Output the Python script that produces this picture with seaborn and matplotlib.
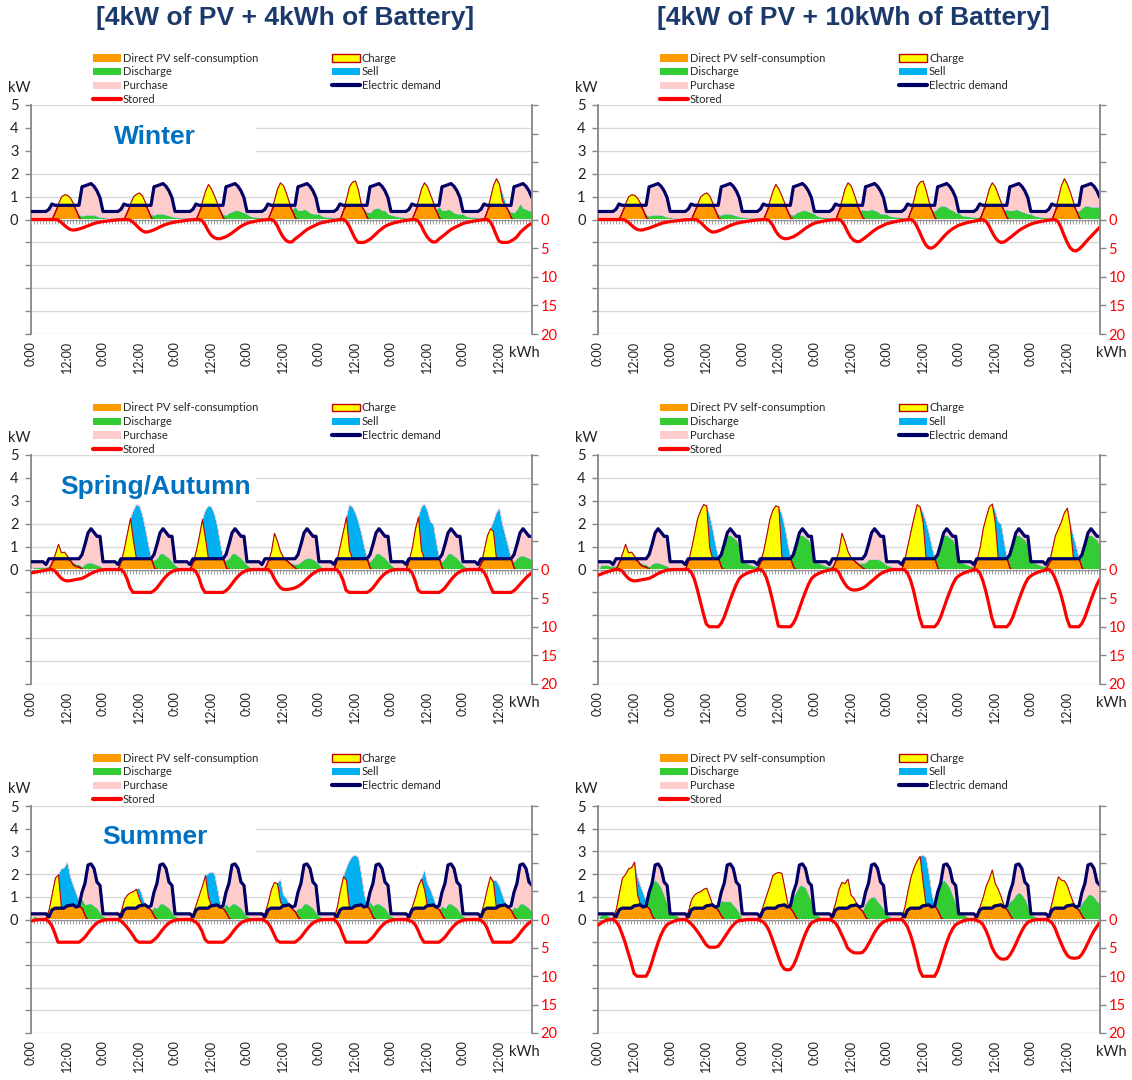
import numpy as np
import pandas as pd
import matplotlib
matplotlib.use("Agg")
import matplotlib.pyplot as plt
import seaborn as sns
from matplotlib.patches import Patch, Rectangle
from matplotlib.lines import Line2D

# ---------------------------------------------------------------- data
HOURS = np.arange(168)
TICK_POS = np.arange(0, 168, 12)
TICK_LABELS = ["0:00", "12:00"] * 7
COLUMN_TITLES = ["[4kW of PV + 4kWh of Battery]", "[4kW of PV + 10kWh of Battery]"]
CAPACITIES = [4, 10]
SEASONS = ["Winter", "Spring/Autumn", "Summer"]
KW_TICKS = list(range(-5, 6))
KWH_TICKS = list(range(-20, 21, 5))

# hourly electric demand profile (kW), repeated every day of the week
DEMAND_WINTER = [0.35, 0.35, 0.35, 0.35, 0.35, 0.35, 0.45, 0.68, 0.62, 0.62, 0.62, 0.62,
                 0.62, 0.62, 0.62, 0.62, 0.62, 1.43, 1.47, 1.52, 1.57, 1.45, 1.25, 0.95]
DEMAND_SPRING = [0.34, 0.34, 0.34, 0.34, 0.34, 0.22, 0.47, 0.47, 0.47, 0.47, 0.47, 0.47,
                 0.47, 0.47, 0.47, 0.47, 0.47, 0.65, 1.1, 1.6, 1.78, 1.62, 1.45, 1.45]
DEMAND_SUMMER = [0.25, 0.25, 0.25, 0.25, 0.25, 0.25, 0.12, 0.42, 0.5, 0.5, 0.5, 0.5,
                 0.6, 0.62, 0.65, 0.55, 0.6, 1.2, 1.6, 2.4, 2.45, 2.25, 1.65, 1.5]

# PV generation (kW), one 24-hour list per day
PV_WINTER = [
    [0, 0, 0, 0, 0, 0, 0, 0.05, 0.35, 0.7, 1.0, 1.1, 1.08, 0.95, 0.72, 0.4, 0.08, 0, 0, 0, 0, 0, 0, 0],
    [0, 0, 0, 0, 0, 0, 0, 0.05, 0.35, 0.7, 1.0, 1.12, 1.18, 1.05, 0.75, 0.4, 0.08, 0, 0, 0, 0, 0, 0, 0],
    [0, 0, 0, 0, 0, 0, 0, 0.05, 0.35, 0.8, 1.25, 1.55, 1.35, 1.05, 0.72, 0.38, 0.08, 0, 0, 0, 0, 0, 0, 0],
    [0, 0, 0, 0, 0, 0, 0, 0.05, 0.38, 0.85, 1.35, 1.62, 1.5, 1.15, 0.75, 0.38, 0.08, 0, 0, 0, 0, 0, 0, 0],
    [0, 0, 0, 0, 0, 0, 0, 0.05, 0.4, 0.9, 1.45, 1.65, 1.7, 1.3, 0.78, 0.4, 0.08, 0, 0, 0, 0, 0, 0, 0],
    [0, 0, 0, 0, 0, 0, 0, 0.05, 0.38, 0.85, 1.35, 1.62, 1.45, 1.1, 0.75, 0.38, 0.08, 0, 0, 0, 0, 0, 0, 0],
    [0, 0, 0, 0, 0, 0, 0, 0.05, 0.4, 0.95, 1.5, 1.8, 1.55, 1.2, 0.78, 0.4, 0.08, 0, 0, 0, 0, 0, 0, 0],
]
PV_SPRING = [
    [0, 0, 0, 0, 0, 0, 0.05, 0.35, 0.7, 1.12, 0.75, 0.78, 0.6, 0.4, 0.22, 0.15, 0.12, 0.03, 0, 0, 0, 0, 0, 0],
    [0, 0, 0, 0, 0, 0.05, 0.4, 0.95, 1.6, 2.25, 2.6, 2.85, 2.8, 2.4, 1.8, 1.1, 0.5, 0.1, 0, 0, 0, 0, 0, 0],
    [0, 0, 0, 0, 0, 0.05, 0.35, 0.85, 1.5, 2.2, 2.6, 2.8, 2.75, 2.45, 1.9, 1.15, 0.5, 0.1, 0, 0, 0, 0, 0, 0],
    [0, 0, 0, 0, 0, 0, 0.1, 0.4, 0.8, 1.6, 1.25, 0.8, 0.55, 0.42, 0.3, 0.18, 0.08, 0, 0, 0, 0, 0, 0, 0],
    [0, 0, 0, 0, 0, 0.05, 0.5, 1.1, 1.7, 2.3, 2.85, 2.75, 2.5, 2.1, 1.6, 1.0, 0.45, 0.05, 0, 0, 0, 0, 0, 0],
    [0, 0, 0, 0, 0, 0.05, 0.45, 1.0, 1.8, 2.3, 2.75, 2.88, 2.6, 2.1, 2.0, 1.2, 0.5, 0.05, 0, 0, 0, 0, 0, 0],
    [0, 0, 0, 0, 0, 0.05, 0.3, 0.9, 1.5, 1.8, 2.1, 2.5, 2.7, 2.0, 1.5, 1.0, 0.45, 0.05, 0, 0, 0, 0, 0, 0],
]
PV_SUMMER = [
    [0, 0, 0, 0, 0, 0.1, 0.5, 1.2, 1.85, 2.0, 2.25, 2.3, 2.55, 1.9, 1.5, 1.15, 0.8, 0.5, 0.15, 0, 0, 0, 0, 0],
    [0, 0, 0, 0, 0, 0.05, 0.4, 0.9, 1.1, 1.2, 1.25, 1.35, 1.4, 1.05, 0.65, 0.55, 0.4, 0.15, 0, 0, 0, 0, 0, 0],
    [0, 0, 0, 0, 0, 0.05, 0.3, 0.7, 1.1, 1.5, 1.95, 2.05, 2.1, 2.05, 1.4, 0.7, 0.5, 0.3, 0.05, 0, 0, 0, 0, 0],
    [0, 0, 0, 0, 0, 0.05, 0.35, 0.8, 1.35, 1.65, 1.6, 1.8, 1.1, 0.95, 0.7, 0.5, 0.35, 0.1, 0, 0, 0, 0, 0, 0],
    [0, 0, 0, 0, 0, 0.1, 0.6, 1.3, 1.9, 2.3, 2.6, 2.8, 2.85, 2.75, 2.0, 1.1, 0.6, 0.4, 0.1, 0, 0, 0, 0, 0],
    [0, 0, 0, 0, 0, 0.05, 0.3, 0.6, 1.0, 1.5, 1.8, 2.2, 1.6, 1.35, 1.0, 0.6, 0.45, 0.2, 0, 0, 0, 0, 0, 0],
    [0, 0, 0, 0, 0, 0.05, 0.3, 0.8, 1.4, 1.9, 1.75, 1.72, 1.5, 1.1, 0.75, 0.55, 0.4, 0.15, 0, 0, 0, 0, 0, 0],
]

# energy stored in the battery (kWh), one 24-hour list per day
STORED_WINTER_4 = [
    [0, 0, 0, 0, 0, 0, 0, 0, 0, 0.08, 0.46, 0.94, 1.4, 1.73, 1.85, 1.8, 1.65, 1.5, 1.3, 1.1, 0.9, 0.7, 0.55, 0.45],
    [0.35, 0.28, 0.22, 0.16, 0.1, 0.05, 0.02, 0, 0, 0.08, 0.46, 0.96, 1.5, 1.93, 2.2, 2.15, 2.0, 1.8, 1.55, 1.3, 1.05, 0.85, 0.68, 0.55],
    [0.45, 0.36, 0.28, 0.2, 0.13, 0.07, 0.03, 0, 0, 0.2, 0.9, 1.9, 2.7, 3.15, 3.35, 3.35, 3.2, 3.0, 2.7, 2.35, 1.95, 1.55, 1.2, 0.9],
    [0.65, 0.5, 0.38, 0.27, 0.18, 0.1, 0.05, 0.02, 0, 0.23, 1.0, 2.1, 3.05, 3.65, 3.95, 3.9, 3.4, 3.0, 2.6, 2.15, 1.75, 1.45, 1.2, 0.95],
    [0.7, 0.55, 0.43, 0.32, 0.23, 0.15, 0.08, 0.03, 0, 0.28, 1.1, 2.2, 3.3, 4.0, 4.0, 4.0, 3.75, 3.45, 3.0, 2.5, 2.0, 1.6, 1.2, 0.95],
    [0.75, 0.58, 0.45, 0.33, 0.23, 0.15, 0.08, 0.03, 0, 0.23, 1.0, 2.1, 3.0, 3.6, 3.95, 3.9, 3.4, 3.0, 2.6, 2.15, 1.75, 1.45, 1.2, 0.95],
    [0.7, 0.55, 0.43, 0.32, 0.23, 0.15, 0.08, 0.03, 0, 0.33, 1.3, 2.6, 3.8, 4.0, 4.0, 4.0, 3.75, 3.45, 3.0, 2.3, 1.8, 1.35, 0.95, 0.65],
]
STORED_WINTER_10 = [
    [0, 0, 0, 0, 0, 0, 0, 0, 0, 0.08, 0.46, 0.94, 1.4, 1.73, 1.85, 1.8, 1.65, 1.5, 1.3, 1.1, 0.9, 0.7, 0.55, 0.45],
    [0.35, 0.28, 0.22, 0.16, 0.1, 0.05, 0.02, 0, 0, 0.08, 0.46, 0.96, 1.5, 1.93, 2.2, 2.15, 2.0, 1.8, 1.55, 1.3, 1.05, 0.85, 0.68, 0.55],
    [0.45, 0.36, 0.28, 0.2, 0.13, 0.07, 0.03, 0, 0, 0.2, 0.9, 1.9, 2.7, 3.15, 3.35, 3.35, 3.2, 3.0, 2.7, 2.35, 1.95, 1.55, 1.2, 0.9],
    [0.65, 0.5, 0.38, 0.27, 0.18, 0.1, 0.05, 0.02, 0, 0.23, 1.0, 2.1, 3.05, 3.6, 3.85, 3.85, 3.5, 3.1, 2.7, 2.25, 1.85, 1.5, 1.25, 1.0],
    [0.75, 0.6, 0.47, 0.35, 0.25, 0.16, 0.09, 0.04, 0, 0.28, 1.1, 2.2, 3.4, 4.4, 4.95, 5.0, 4.7, 4.2, 3.6, 3.0, 2.45, 2.0, 1.6, 1.3],
    [1.0, 0.82, 0.66, 0.52, 0.4, 0.3, 0.2, 0.12, 0.05, 0.3, 1.05, 2.1, 3.05, 3.7, 4.0, 3.95, 3.6, 3.2, 2.8, 2.35, 1.95, 1.6, 1.3, 1.05],
    [0.8, 0.63, 0.49, 0.37, 0.27, 0.18, 0.1, 0.05, 0, 0.35, 1.35, 2.7, 3.9, 4.9, 5.4, 5.5, 5.2, 4.7, 4.1, 3.5, 2.95, 2.4, 1.85, 1.3],
]
STORED_SPRING_4 = [
    [0.6, 0.5, 0.4, 0.3, 0.2, 0.1, 0, 0, 0.25, 0.9, 1.5, 1.85, 2.0, 1.95, 1.85, 1.75, 1.65, 1.55, 1.3, 1.0, 0.7, 0.45, 0.25, 0.1],
    [0.05, 0, 0, 0, 0, 0, 0, 0.48, 1.6, 3.2, 4.0, 4.0, 4.0, 4.0, 4.0, 4.0, 4.0, 3.7, 3.2, 2.5, 1.8, 1.2, 0.7, 0.35],
    [0.15, 0.05, 0, 0, 0, 0, 0, 0.4, 1.45, 3.1, 4.0, 4.0, 4.0, 4.0, 4.0, 4.0, 4.0, 3.7, 3.2, 2.5, 1.8, 1.2, 0.7, 0.35],
    [0.15, 0.05, 0, 0, 0, 0, 0, 0, 0.4, 1.5, 2.4, 3.1, 3.45, 3.5, 3.45, 3.35, 3.2, 2.95, 2.6, 2.15, 1.65, 1.15, 0.7, 0.35],
    [0.12, 0.04, 0, 0, 0, 0, 0.05, 0.65, 1.85, 3.6, 4.0, 4.0, 4.0, 4.0, 4.0, 4.0, 4.0, 3.7, 3.2, 2.5, 1.8, 1.2, 0.7, 0.35],
    [0.15, 0.05, 0, 0, 0, 0, 0.05, 0.55, 1.85, 3.6, 4.0, 4.0, 4.0, 4.0, 4.0, 4.0, 4.0, 3.7, 3.2, 2.5, 1.8, 1.2, 0.7, 0.35],
    [0.15, 0.05, 0, 0, 0, 0, 0, 0.45, 1.45, 2.8, 4.0, 4.0, 4.0, 4.0, 4.0, 4.0, 4.0, 3.7, 3.2, 2.6, 2.0, 1.45, 0.95, 0.55],
]
STORED_SPRING_10 = [
    [1.0, 0.8, 0.6, 0.4, 0.25, 0.1, 0, 0, 0.25, 0.9, 1.5, 1.85, 2.0, 1.95, 1.85, 1.75, 1.65, 1.55, 1.3, 1.0, 0.7, 0.45, 0.25, 0.1],
    [0.05, 0, 0, 0, 0, 0, 0, 0.48, 1.6, 3.4, 5.5, 7.6, 9.5, 10, 10, 10, 10, 9.4, 8.3, 6.8, 5.3, 3.9, 2.6, 1.6],
    [1.1, 0.8, 0.55, 0.35, 0.2, 0.08, 0, 0.38, 1.41, 3.14, 5.27, 7.6, 9.88, 10, 10, 10, 10, 9.4, 8.3, 6.8, 5.3, 3.9, 2.6, 1.6],
    [1.1, 0.8, 0.55, 0.35, 0.2, 0.08, 0, 0, 0.4, 1.5, 2.4, 3.1, 3.45, 3.6, 3.55, 3.45, 3.25, 2.95, 2.5, 2.05, 1.6, 1.15, 0.75, 0.45],
    [0.25, 0.1, 0, 0, 0, 0, 0.05, 0.65, 1.9, 3.75, 6.1, 8.4, 10, 10, 10, 10, 10, 9.4, 8.3, 6.8, 5.3, 3.9, 2.6, 1.6],
    [1.1, 0.8, 0.55, 0.35, 0.2, 0.08, 0.05, 0.55, 1.9, 3.75, 6.0, 8.4, 10, 10, 10, 10, 10, 9.4, 8.3, 6.8, 5.3, 3.9, 2.6, 1.6],
    [1.1, 0.8, 0.55, 0.35, 0.2, 0.08, 0, 0.43, 1.46, 2.8, 4.4, 6.4, 8.6, 10, 10, 10, 10, 9.4, 8.3, 6.8, 5.3, 3.9, 2.6, 1.6],
]
STORED_SUMMER_4 = [
    [0.3, 0.15, 0.05, 0, 0, 0, 0.38, 1.16, 2.51, 4.0, 4.0, 4.0, 4.0, 4.0, 4.0, 4.0, 4.0, 3.6, 3.1, 2.4, 1.7, 1.1, 0.6, 0.3],
    [0.15, 0.05, 0, 0, 0, 0, 0.28, 0.76, 1.36, 2.06, 2.81, 3.66, 4.0, 4.0, 4.0, 4.0, 4.0, 3.6, 3.1, 2.4, 1.7, 1.1, 0.6, 0.3],
    [0.15, 0.05, 0, 0, 0, 0, 0.18, 0.46, 1.06, 2.06, 3.51, 4.0, 4.0, 4.0, 4.0, 4.0, 4.0, 3.6, 3.1, 2.4, 1.7, 1.1, 0.6, 0.3],
    [0.15, 0.05, 0, 0, 0, 0, 0.23, 0.61, 1.46, 2.61, 3.71, 4.0, 4.0, 4.0, 4.0, 4.0, 4.0, 3.6, 3.1, 2.4, 1.7, 1.1, 0.6, 0.3],
    [0.15, 0.05, 0, 0, 0, 0, 0.48, 1.36, 2.76, 4.0, 4.0, 4.0, 4.0, 4.0, 4.0, 4.0, 4.0, 3.6, 3.1, 2.4, 1.7, 1.1, 0.6, 0.3],
    [0.15, 0.05, 0, 0, 0, 0, 0.18, 0.36, 0.86, 1.86, 3.16, 4.0, 4.0, 4.0, 4.0, 4.0, 4.0, 3.6, 3.1, 2.4, 1.7, 1.1, 0.6, 0.3],
    [0.15, 0.05, 0, 0, 0, 0, 0.18, 0.56, 1.46, 2.86, 4.0, 4.0, 4.0, 4.0, 4.0, 4.0, 4.0, 3.6, 3.1, 2.4, 1.7, 1.1, 0.6, 0.3],
]
STORED_SUMMER_10 = [
    [1.0, 0.6, 0.3, 0.1, 0, 0, 0.38, 1.16, 2.51, 4.01, 5.76, 7.56, 9.51, 10, 10, 10, 10, 9.0, 7.4, 5.65, 4.05, 2.65, 1.6, 0.9],
    [0.6, 0.35, 0.15, 0.05, 0, 0, 0.28, 0.76, 1.36, 2.06, 2.81, 3.66, 4.46, 4.89, 4.89, 4.89, 4.7, 4.0, 3.2, 2.4, 1.6, 0.95, 0.45, 0.15],
    [0.15, 0.05, 0, 0, 0, 0, 0.18, 0.46, 1.06, 2.06, 3.51, 5.06, 6.56, 7.99, 8.74, 8.89, 8.8, 8.1, 6.9, 5.4, 3.9, 2.5, 1.4, 0.6],
    [0.3, 0.1, 0, 0, 0, 0, 0.23, 0.61, 1.46, 2.61, 3.71, 5.01, 5.51, 5.84, 5.89, 5.89, 5.8, 5.2, 4.3, 3.3, 2.3, 1.5, 0.85, 0.4],
    [0.2, 0.05, 0, 0, 0, 0, 0.48, 1.36, 2.76, 4.56, 6.66, 8.96, 10, 10, 10, 10, 10, 9.0, 7.4, 5.65, 4.05, 2.65, 1.6, 0.9],
    [0.6, 0.35, 0.15, 0.05, 0, 0, 0.18, 0.36, 0.86, 1.86, 3.16, 4.86, 5.86, 6.59, 6.94, 6.99, 6.9, 6.3, 5.4, 4.3, 3.1, 2.0, 1.1, 0.5],
    [0.25, 0.1, 0, 0, 0, 0, 0.18, 0.56, 1.46, 2.86, 4.11, 5.33, 6.23, 6.71, 6.81, 6.81, 6.7, 6.1, 5.2, 4.1, 3.0, 2.0, 1.2, 0.5],
]

SEASON_DATA = [
    (DEMAND_WINTER, PV_WINTER, [STORED_WINTER_4, STORED_WINTER_10]),
    (DEMAND_SPRING, PV_SPRING, [STORED_SPRING_4, STORED_SPRING_10]),
    (DEMAND_SUMMER, PV_SUMMER, [STORED_SUMMER_4, STORED_SUMMER_10]),
]

# ---------------------------------------------------------------- style
ORANGE = "#FF9900"
YELLOW = "#FFFF00"
GREEN = "#33CC33"
BLUE = "#00B0F0"
PINK = "#FFCCCC"
NAVY = "#000066"
RED = "#FF0000"
EDGE_RED = "#C00000"
AXIS_GREY = "#868686"
GRID_GREY = "#D9D9D9"
TITLE_NAVY = "#1B3A6B"
SEASON_BLUE = "#0070C0"

sns.set_theme(style="white")
plt.rcParams["font.family"] = ["Lato", "DejaVu Sans"]

W, H = 1132, 1080
fig = plt.figure(figsize=(W / 100, H / 100), dpi=100)
fig.patch.set_facecolor("white")

COL_X = [(31, 532), (598, 1100)]
ROW_Y = [(105, 334), (455, 684), (806, 1033)]
LEG_TOP = [52.5, 402.5, 752.5]
KWH_X = [524, 1111]


def fx(px):
    return px / W


def fy(py):
    return 1 - py / H


def energy_balance(pv, demand, stored, cap):
    direct = np.minimum(pv, demand)
    surplus = pv - direct
    deficit = demand - direct
    delta = np.diff(stored, prepend=stored[0])
    full = stored >= cap - 0.05
    charge = np.where(full, np.minimum(surplus, np.clip(delta, 0, None)), surplus)
    sell = surplus - charge
    discharge = np.minimum(deficit, np.clip(-delta, 0, None))
    purchase = deficit - discharge
    return direct, charge, discharge, sell, purchase


def draw_panel(ax, pv, demand, stored, cap, season):
    direct, charge, discharge, sell, purchase = energy_balance(pv, demand, stored, cap)
    df = pd.DataFrame({"hour": HOURS, "demand": demand, "stored": stored})

    ax.set_axisbelow(True)
    polys = ax.stackplot(df["hour"], direct, charge, discharge, sell, purchase,
                         colors=[ORANGE, YELLOW, GREEN, BLUE, PINK], linewidth=0)
    for p in polys:
        p.set_edgecolor("face")
        p.set_linewidth(0.3)
    polys[1].set_edgecolor(EDGE_RED)
    polys[1].set_linewidth(0.8)
    polys[1].set_zorder(1.6)

    # horizontal axis crossing at 0 kW
    ax.axhline(0, color="#8C8C8C", linewidth=1.0, zorder=2.5)

    sns.lineplot(data=df, x="hour", y="demand", ax=ax, color=NAVY, linewidth=2.3,
                 legend=False, zorder=3, solid_joinstyle="round")

    ax.set_xlim(0, 167)
    ax.set_ylim(-5, 5)
    ax.set_yticks(KW_TICKS)
    ax.set_yticklabels([str(v) if v >= 0 else "" for v in KW_TICKS])
    ax.set_xticks(TICK_POS)
    ax.set_xticklabels(TICK_LABELS)
    ax.set_xlabel("")
    ax.set_ylabel("")
    ax.grid(axis="y", color=GRID_GREY, linewidth=1.0)
    ax.grid(axis="x", visible=False)
    ax.tick_params(axis="x", length=0, labelrotation=90, labelsize=9, pad=5, labelcolor="#222222")
    ax.tick_params(axis="y", length=4, width=1, color=AXIS_GREY, labelsize=10.5,
                   labelcolor="#222222", pad=5, left=True)
    for s in ["top", "bottom", "right"]:
        ax.spines[s].set_visible(False)
    ax.spines["left"].set_color(AXIS_GREY)
    ax.spines["left"].set_linewidth(1.3)

    # hourly tick marks hanging below the zero line
    sec = ax.secondary_xaxis(0.5)
    sec.set_ticks(HOURS)
    sec.tick_params(axis="x", direction="in", length=3.8, width=0.7, color="#A0A0A0",
                    labeltop=False, labelbottom=False)
    for s in ["top", "bottom"]:
        sec.spines[s].set_visible(False)
    sec.set_zorder(2.6)

    if season:
        ax.add_patch(Rectangle((0, 0.76), 0.45, 0.2, transform=ax.transAxes,
                               facecolor="white", edgecolor="none", zorder=0.8))
        ax.text(0.248, 0.862, season, transform=ax.transAxes, ha="center", va="center",
                fontsize=19, fontweight="bold", color=SEASON_BLUE,
                family=["Liberation Sans", "DejaVu Sans"], zorder=5)

    ax2 = ax.twinx()
    sns.lineplot(data=df, x="hour", y="stored", ax=ax2, color=RED, linewidth=2.3,
                 legend=False, solid_joinstyle="round")
    ax2.set_xlim(0, 167)
    ax2.set_ylim(20, -20)
    ax2.set_yticks(KWH_TICKS)
    ax2.set_yticklabels([str(v) if v >= 0 else "" for v in KWH_TICKS])
    ax2.set_ylabel("")
    ax2.set_xlabel("")
    ax2.grid(False)
    ax2.tick_params(axis="y", length=4, width=1, color=AXIS_GREY, labelcolor=RED,
                    labelsize=10.5, pad=2, right=True)
    for s in ["top", "bottom", "left"]:
        ax2.spines[s].set_visible(False)
    ax2.spines["right"].set_color(AXIS_GREY)
    ax2.spines["right"].set_linewidth(1.3)


left_handles = [Patch(facecolor=ORANGE, edgecolor="none"),
                Patch(facecolor=GREEN, edgecolor="none"),
                Patch(facecolor=PINK, edgecolor="none"),
                Line2D([0], [0], color=RED, linewidth=3)]
left_labels = ["Direct PV self-consumption", "Discharge", "Purchase", "Stored"]
right_handles = [Patch(facecolor=YELLOW, edgecolor=EDGE_RED, linewidth=1.0),
                 Patch(facecolor=BLUE, edgecolor="none"),
                 Line2D([0], [0], color=NAVY, linewidth=3)]
right_labels = ["Charge", "Sell", "Electric demand"]

for r, (demand_day, pv_days, stored_sets) in enumerate(SEASON_DATA):
    demand = np.tile(np.array(demand_day, dtype=float), 7)
    pv = np.concatenate([np.array(d, dtype=float) for d in pv_days])
    for c in range(2):
        x0, x1 = COL_X[c]
        y0, y1 = ROW_Y[r]
        ax = fig.add_axes([fx(x0), fy(y1), (x1 - x0) / W, (y1 - y0) / H])
        stored = np.concatenate([np.array(d, dtype=float) for d in stored_sets[c]])
        draw_panel(ax, pv, demand, stored, CAPACITIES[c], SEASONS[r] if c == 0 else None)

        leg_kw = dict(loc="upper left", frameon=False, fontsize=8, borderpad=0,
                      borderaxespad=0, handlelength=2.5, handleheight=0.7,
                      handletextpad=0.2, labelspacing=0.26,
                      bbox_transform=fig.transFigure)
        fig.legend(left_handles, left_labels, bbox_to_anchor=(fx(x0 + 62), fy(LEG_TOP[r])), **leg_kw)
        fig.legend(right_handles, right_labels, bbox_to_anchor=(fx(x0 + 301), fy(LEG_TOP[r])), **leg_kw)

        fig.text(fx(x0 - 12), fy(y0 - 17), "kW", ha="center", va="center", fontsize=10.5, color="#222222")
        fig.text(fx(KWH_X[c]), fy(y1 + 19), "kWh", ha="center", va="center", fontsize=10.5, color="#222222")

for c in range(2):
    x0, x1 = COL_X[c]
    fig.text(fx((x0 + x1) / 2 + 4), fy(18), COLUMN_TITLES[c], ha="center", va="center",
             fontsize=19, fontweight="bold", color=TITLE_NAVY,
             family=["Liberation Sans", "DejaVu Sans"])

fig.savefig("out.png", dpi=100)
